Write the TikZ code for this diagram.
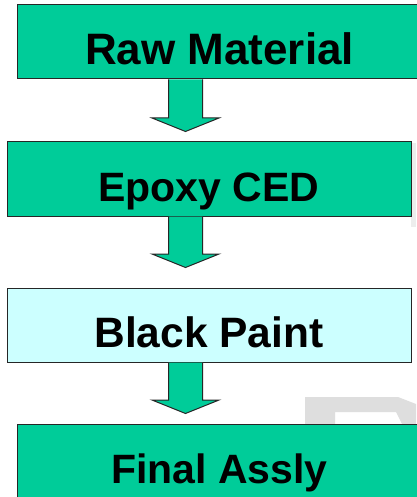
\documentclass[tikz,border=0pt]{standalone}
\usepackage{fontspec}
\setmainfont{Liberation Sans}
\usepackage{tikz}
\usetikzlibrary{calc, positioning}
\definecolor{stagegreen}{HTML}{00CC99}
\definecolor{stagecyan}{HTML}{CCFFFF}
\definecolor{markgray}{HTML}{DEDEDE}
\tikzset{>=latex}
% block arrow from the upper stage down towards the lower one
\newcommand{\stagearrow}[3]{%
    \draw[flowarrow] let \p1=(#1.south -| axis), \p2=($(#2.north -| axis)+(0,#3)$) in
        (\x1-17pt,\y1) -- (\x1-17pt,\y2+13.5pt) -- (\x1-33.5pt,\y2+13.5pt) -- (\x2,\y2)
        -- (\x1+33.5pt,\y2+13.5pt) -- (\x1+17pt,\y2+13.5pt) -- (\x1+17pt,\y1);
}

\begin{document}
\begin{tikzpicture}[x=1pt,y=1pt,
    stage/.style={draw=black!85,line width=1pt,rectangle,minimum height=74pt,inner sep=0pt,
        text height=44pt,text depth=0pt,font=\bfseries},
    flowarrow/.style={draw=black!85,line width=1pt,fill=stagegreen,line join=miter}]
    \useasboundingbox[fill=white] (0,0) rectangle (416,-497);
    % faint marks behind the boxes
    \fill[black!7] (411,-143) rectangle (416,-227);
    \fill[markgray,even odd rule] (305,-397) -- (398,-397) -- (416,-404) -- (416,-424) -- (305,-424) -- cycle
        (335,-412) -- (396,-412) -- (402,-424) -- (335,-424) -- cycle;
    \coordinate (axis) at (185.5,0);
    \node[stage,fill=stagegreen,minimum width=405pt,text height=46pt,
        font=\fontsize{44}{50}\selectfont\bfseries] (raw) at (219.5,-42) {Raw Material};
    \node[stage,fill=stagegreen,minimum width=404pt,
        font=\fontsize{41}{48}\selectfont\bfseries] (epoxy) at (209,-179) {Epoxy CED};
    \node[stage,fill=stagecyan,minimum width=404pt,
        font=\fontsize{42.5}{48}\selectfont\bfseries] (paint) at (209,-325) {Black Paint};
    \node[stage,fill=stagegreen,minimum width=405pt,
        font=\fontsize{41}{48}\selectfont\bfseries] (assly) at (219.5,-461) {Final Assly};
    \stagearrow{raw}{epoxy}{10pt}
    \stagearrow{epoxy}{paint}{20pt}
    \stagearrow{paint}{assly}{10pt}
\end{tikzpicture}
\end{document}
